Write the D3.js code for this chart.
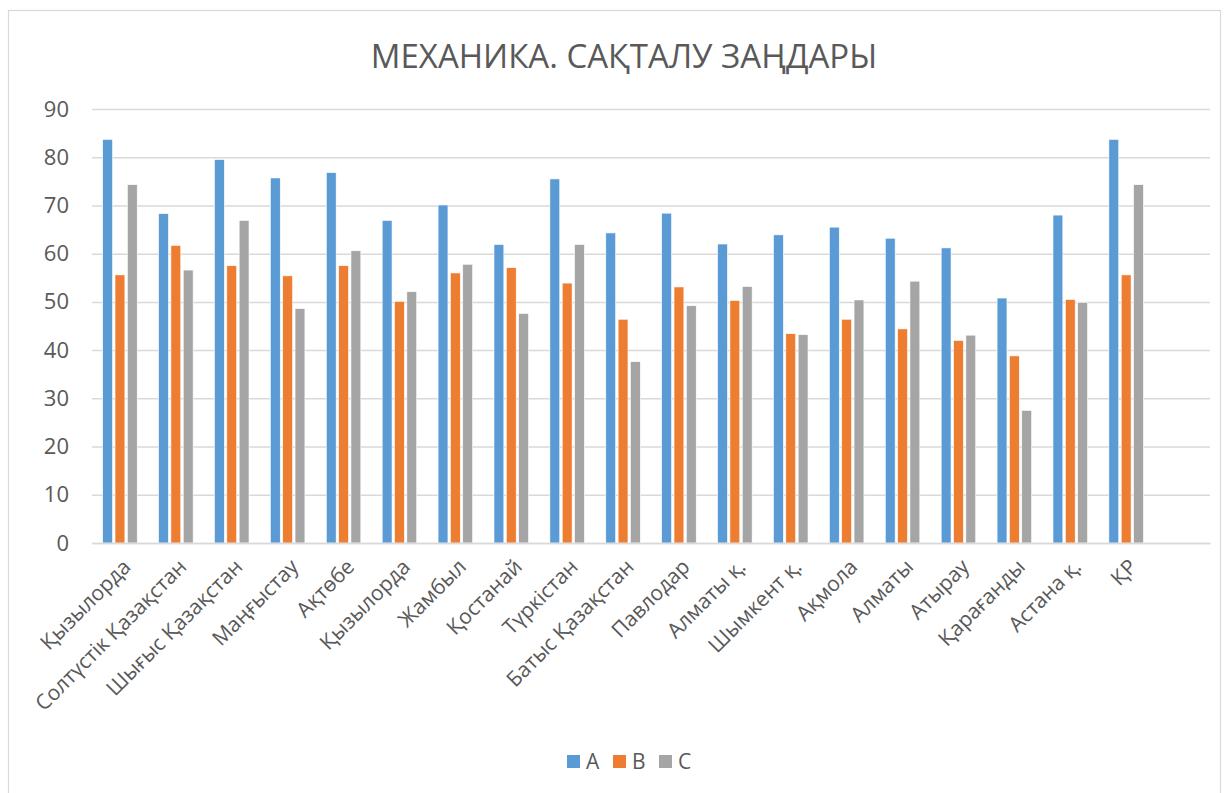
<!DOCTYPE html>
<html>
<head>
<meta charset="utf-8">
<script src="https://cdn.jsdelivr.net/npm/d3@7"></script>
<style>
  body { margin: 0; background: #fff; }
  text { font-family: "Open Sans", sans-serif; fill: #595959; }
</style>
</head>
<body>
<div id="canva"></div>
<script>
const categories = ["Қызылорда", "Солтүстік Қазақстан", "Шығыс Қазақстан", "Маңғыстау", "Ақтөбе",
  "Қызылорда", "Жамбыл", "Қостанай", "Түркістан", "Батыс Қазақстан", "Павлодар", "Алматы қ.",
  "Шымкент қ.", "Ақмола", "Алматы", "Атырау", "Қарағанды", "Астана қ.", "ҚР", ""];
const seriesNames = ["A", "B", "C"];
const valuesA = [83.7, 68.3, 79.5, 75.7, 76.8, 66.9, 70.1, 61.9, 75.5, 64.3, 68.4, 62.0, 63.9, 65.5, 63.2, 61.2, 50.8, 68.0, 83.7];
const valuesB = [55.6, 61.7, 57.5, 55.4, 57.5, 50.1, 56.0, 57.1, 53.9, 46.4, 53.1, 50.3, 43.4, 46.4, 44.4, 42.0, 38.8, 50.5, 55.6];
const valuesC = [74.3, 56.6, 66.9, 48.6, 60.6, 52.1, 57.8, 47.6, 61.9, 37.6, 49.2, 53.2, 43.2, 50.4, 54.3, 43.1, 27.5, 49.9, 74.3];
const yTicks = [0, 10, 20, 30, 40, 50, 60, 70, 80, 90];
const title = "МЕХАНИКА. САҚТАЛУ ЗАҢДАРЫ";

const colors = ["#5B9BD5", "#ED7D31", "#A5A5A5"];
const seriesValues = [valuesA, valuesB, valuesC];

const width = 1229, height = 793;
const margin = { top: 109, right: 19, bottom: 250, left: 92 };
const iwidth = width - margin.left - margin.right;
const iheight = height - margin.top - margin.bottom;

const svg = d3.select("#canva").append("svg")
  .attr("width", width)
  .attr("height", height);

// chart border
svg.append("rect")
  .attr("x", 8.5).attr("y", 10.5)
  .attr("width", 1212).attr("height", 800)
  .attr("fill", "none").attr("stroke", "#d9d9d9").attr("stroke-width", 1.2);

svg.append("text")
  .attr("x", 624).attr("y", 68)
  .attr("text-anchor", "middle")
  .style("font-size", "33px")
  .text(title);

const g = svg.append("g").attr("transform", `translate(${margin.left},${margin.top})`);

const y = d3.scaleLinear().domain([0, 90]).range([iheight, 0]);
const x0 = d3.scaleBand().domain(d3.range(categories.length)).range([0, iwidth]);
const gw = 37;
const x1 = d3.scaleBand().domain(seriesNames).range([-gw / 2, gw / 2]).paddingInner(0.2).paddingOuter(0.1);

// gridlines + y labels
const yAxis = g.append("g")
  .call(d3.axisLeft(y).tickValues(yTicks).tickSize(-iwidth).tickPadding(23));
yAxis.select(".domain").remove();
yAxis.selectAll(".tick line").attr("stroke", "#d9d9d9").attr("stroke-width", 1.5);
yAxis.selectAll(".tick text").style("font-size", "22px").attr("fill", "#595959");

// bars
seriesNames.forEach((s, si) => {
  g.selectAll(".bar-" + s)
    .data(seriesValues[si])
    .enter()
    .append("rect")
    .attr("class", "bar-" + s)
    .attr("x", (d, i) => x0(i) + x0.bandwidth() / 2 + x1(s))
    .attr("y", d => y(d))
    .attr("width", x1.bandwidth())
    .attr("height", d => iheight - y(d))
    .attr("fill", colors[si])
    .attr("stroke", "#fff")
    .attr("stroke-width", 0.6);
});

// x axis line + labels
const xAxis = g.append("g")
  .attr("transform", `translate(0,${iheight})`)
  .call(d3.axisBottom(x0).tickSize(0).tickFormat(i => categories[i]));
xAxis.select(".domain").attr("stroke", "#d9d9d9").attr("stroke-width", 1.5);
xAxis.selectAll(".tick text")
  .style("font-size", "21px")
  .attr("text-anchor", "end")
  .attr("dy", 0)
  .attr("transform", "translate(10,23) rotate(-45)");

// legend
const legend = svg.append("g").attr("transform", "translate(567,755)");
seriesNames.forEach((s, i) => {
  const lg = legend.append("g").attr("transform", `translate(${i * 46},0)`);
  lg.append("rect").attr("width", 13).attr("height", 13).attr("fill", colors[i]);
  lg.append("text").attr("x", 19).attr("y", 14).style("font-size", "21px").text(s);
});
</script>
</body>
</html>
